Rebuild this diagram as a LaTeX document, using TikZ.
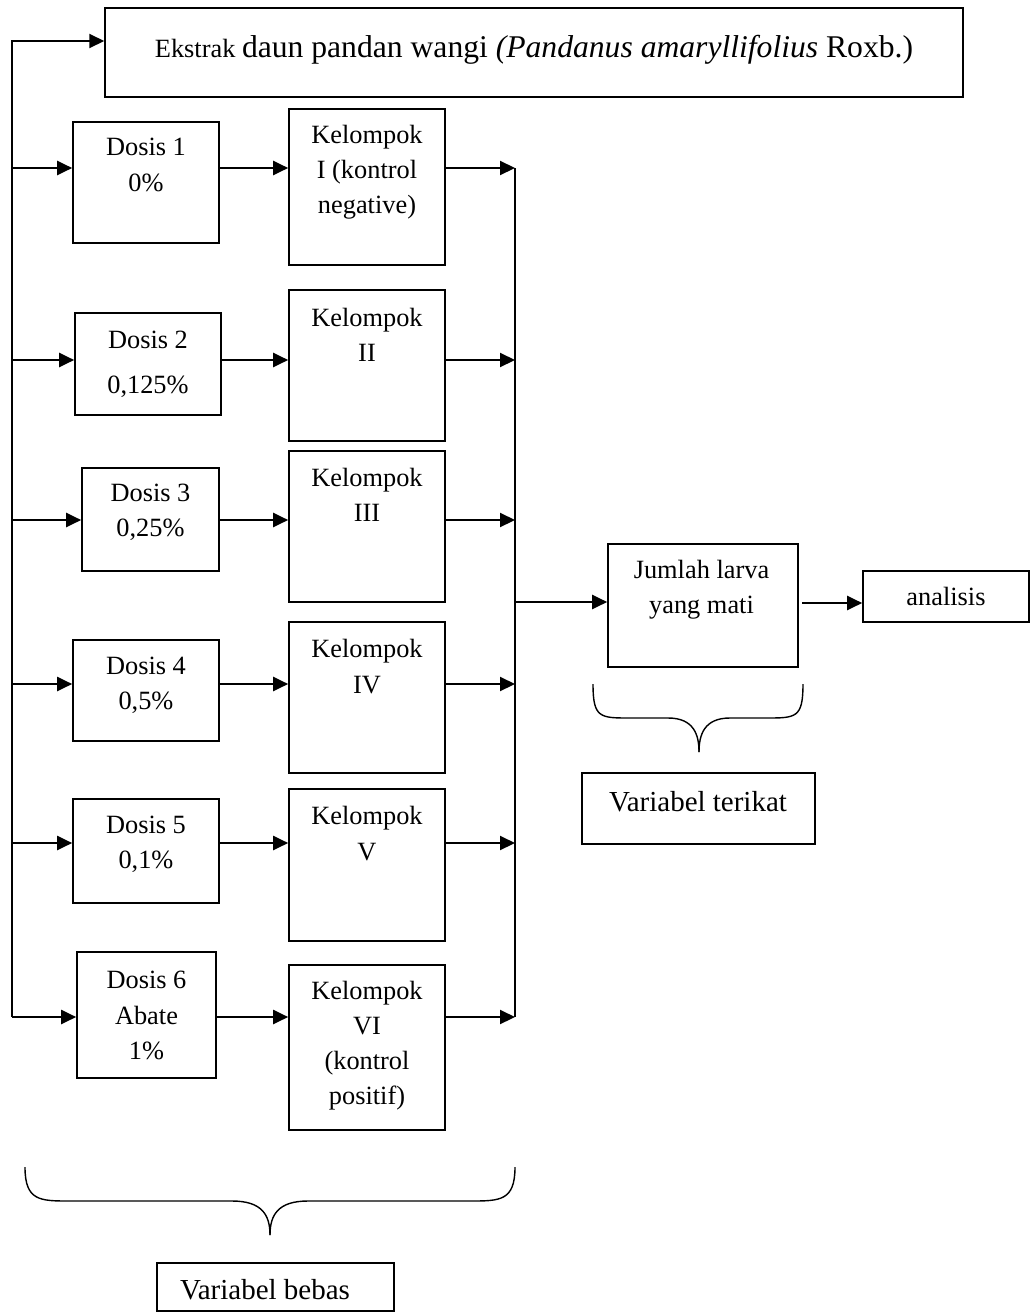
\documentclass[tikz,border=0pt]{standalone}
\usepackage{fontspec}
\setmainfont{Liberation Serif}
\usetikzlibrary{arrows.meta}

\begin{document}
\begin{tikzpicture}[x=0.02cm,y=-0.02cm,
  box/.style={draw,line width=0.95pt,inner sep=0pt},
  txt/.style={align=center,inner sep=0pt,font=\fontsize{15}{20}\selectfont},
  vartxt/.style={txt,font=\fontsize{16.5}{20}\selectfont},
  arr/.style={line width=1.2pt,-{Triangle[length=0.3cm,width=0.28cm]}},
  bus/.style={line width=1.2pt},
  brace/.style={line width=0.8pt}]
\useasboundingbox (0,0) rectangle (1030,1312);
\node[box,minimum width=17.16cm,minimum height=1.78cm] (top) at (534,52.5) {};
\node[box,minimum width=2.92cm,minimum height=2.42cm] (d1) at (146,182.5) {};
\node[box,minimum width=2.92cm,minimum height=2.04cm] (d2) at (148,364) {};
\node[box,minimum width=2.74cm,minimum height=2.06cm] (d3) at (150.5,519.5) {};
\node[box,minimum width=2.92cm,minimum height=2.02cm] (d4) at (146,690.5) {};
\node[box,minimum width=2.92cm,minimum height=2.08cm] (d5) at (146,851) {};
\node[box,minimum width=2.78cm,minimum height=2.52cm] (d6) at (146.5,1015) {};
\node[box,minimum width=3.12cm,minimum height=3.12cm] (k1) at (367,187) {};
\node[box,minimum width=3.12cm,minimum height=3.02cm] (k2) at (367,365.5) {};
\node[box,minimum width=3.12cm,minimum height=3.02cm] (k3) at (367,526.5) {};
\node[box,minimum width=3.12cm,minimum height=3.02cm] (k4) at (367,697.5) {};
\node[box,minimum width=3.12cm,minimum height=3.04cm] (k5) at (367,865) {};
\node[box,minimum width=3.12cm,minimum height=3.30cm] (k6) at (367,1047.5) {};
\node[box,minimum width=3.80cm,minimum height=2.46cm] (jm) at (703,605.5) {};
\node[box,minimum width=3.32cm,minimum height=1.02cm] (an) at (946,596.5) {};
\node[box,minimum width=4.66cm,minimum height=1.42cm] (vt) at (698.5,808.5) {};
\node[box,minimum width=4.74cm,minimum height=0.96cm] (vb) at (275.5,1287) {};
\node[txt] (topt) at (534,50) {Ekstrak {\fontsize{18}{22}\selectfont daun pandan wangi \textit{(Pandanus amaryllifolius} Roxb.)}};
\node[txt] (d1t) at (146,165) {Dosis 1\\0\%};
\node[txt] (d2t) at (148,364.5) {Dosis 2\\[5.5pt]0,125\%};
\node[txt] (d3t) at (150.5,512.5) {Dosis 3\\0,25\%};
\node[txt] (d4t) at (146,685) {Dosis 4\\0,5\%};
\node[txt] (d5t) at (146,844.5) {Dosis 5\\0,1\%};
\node[txt] (d6t) at (146.5,1015.5) {Dosis 6\\Abate\\1\%};
\node[txt] (k1t) at (367,172.5) {Kelompok\\I (kontrol\\negative)};
\node[txt] (k2t) at (367,334.5) {Kelompok\\II};
\node[txt] (k3t) at (367,495) {Kelompok\\III};
\node[txt] (k4t) at (367,666.5) {Kelompok\\IV};
\node[txt] (k5t) at (367,833.5) {Kelompok\\V};
\node[txt] (k6t) at (367,1045.5) {Kelompok\\VI\\(kontrol\\positif)};
\node[txt] (jmt) at (701.5,589.5) {Jumlah larva\\yang mati};
\node[txt] (ant) at (946,596) {analisis};
\node[vartxt] (vtt) at (698,802) {Variabel terikat};
\node[vartxt] (vbt) at (265,1290) {Variabel bebas};
\coordinate (l0) at (12,41);
\coordinate (l1) at (12,168);
\coordinate (l2) at (12,360);
\coordinate (l3) at (12,520);
\coordinate (l4) at (12,684);
\coordinate (l5) at (12,843);
\coordinate (l6) at (12,1017);
\coordinate (r1) at (515,168);
\coordinate (r2) at (515,360);
\coordinate (r3) at (515,520);
\coordinate (r4) at (515,684);
\coordinate (r5) at (515,843);
\coordinate (r6) at (515,1017);
\coordinate (rm) at (515,602);
\coordinate (a1) at (802,603);
\draw[arr] (l6) -- (l0) -- (l0 -| top.west);
\draw[arr] (l1) -- (l1 -| d1.west);
\draw[arr] (l2) -- (l2 -| d2.west);
\draw[arr] (l3) -- (l3 -| d3.west);
\draw[arr] (l4) -- (l4 -| d4.west);
\draw[arr] (l5) -- (l5 -| d5.west);
\draw[arr] (l6) -- (l6 -| d6.west);
\draw[arr] (d1.east |- l1) -- (l1 -| k1.west);
\draw[arr] (d2.east |- l2) -- (l2 -| k2.west);
\draw[arr] (d3.east |- l3) -- (l3 -| k3.west);
\draw[arr] (d4.east |- l4) -- (l4 -| k4.west);
\draw[arr] (d5.east |- l5) -- (l5 -| k5.west);
\draw[arr] (d6.east |- l6) -- (l6 -| k6.west);
\draw[arr] (k1.east |- r1) -- (r1);
\draw[arr] (k2.east |- r2) -- (r2);
\draw[arr] (k3.east |- r3) -- (r3);
\draw[arr] (k4.east |- r4) -- (r4);
\draw[arr] (k5.east |- r5) -- (r5);
\draw[arr] (k6.east |- r6) -- (r6);
\draw[bus] (r1) -- (r6);
\draw[arr] (rm) -- (rm -| jm.west);
\draw[arr] (a1) -- (a1 -| an.west);
\draw[brace] (593,684) .. controls (593,718) and (600,718) .. (630,718) -- (668,718) .. controls (694,718) and (699,735) .. (699,752);
\draw[brace] (803,684) .. controls (803,718) and (796,718) .. (766,718) -- (730,718) .. controls (704,718) and (699,735) .. (699,752);
\draw[brace] (25,1167) .. controls (25,1201) and (40,1201) .. (70,1201) -- (232,1201) .. controls (262,1201) and (270,1215) .. (270,1235);
\draw[brace] (515,1167) .. controls (515,1201) and (500,1201) .. (470,1201) -- (308,1201) .. controls (278,1201) and (270,1215) .. (270,1235);
\end{tikzpicture}
\end{document}
